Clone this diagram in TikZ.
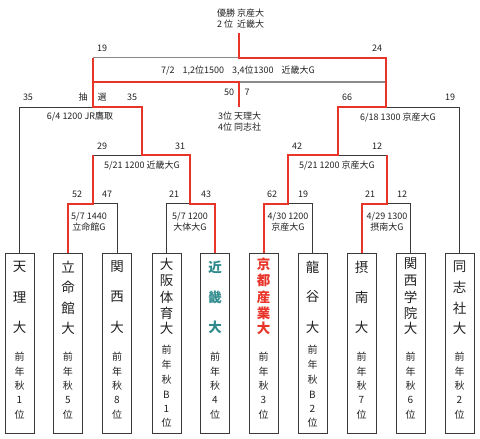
\documentclass[tikz,border=0pt]{standalone}
\usepackage{fontspec}
\setmainfont{Noto Sans CJK JP}
\definecolor{winred}{HTML}{E8352A}
\definecolor{lineblack}{HTML}{3A3A3A}
\definecolor{linegray}{HTML}{8A8A8A}
\definecolor{kinteal}{HTML}{2E8A8C}
\definecolor{txt}{HTML}{222222}
\tikzset{
  teambox/.style={draw=lineblack,line width=0.9pt,minimum width=29pt,minimum height=180pt,inner sep=0pt},
  blk/.style={draw=lineblack,line width=0.9pt},
  gry/.style={draw=linegray,line width=1.1pt},
  rd/.style={draw=winred,line width=2pt,line join=miter},
  small/.style={font=\fontsize{9}{11}\selectfont,text=txt,inner sep=0pt,align=center},
  namech/.style={font=\fontsize{13.5}{14}\selectfont,text=txt,inner sep=0pt},
  rankch/.style={font=\fontsize{10}{11}\selectfont,text=txt,inner sep=0pt},
}
\begin{document}
\begin{tikzpicture}[x=1pt,y=-1pt]
\useasboundingbox (0,0) rectangle (480,439);
% team boxes
\foreach \i/\x in {1/19.5,2/68,3/117,4/166.5,5/215,6/263.5,7/312.5,8/361.5,9/410.5,10/459.5}{
  \node[teambox] (b\i) at (\x,343) {};
}
% team names
\newcommand\vchars[4]{% x, style, ylist, charlist
  \foreach \yy [count=\k] in {#3}{
    \foreach \cc [count=\m] in {#4}{
      \ifnum\k=\m \node[#2] (c-#1-\k) at (#1,\yy) {\cc};\fi
    }
  }
}
\vchars{19.5}{namech}{267,297,327}{天,理,大}
\vchars{68}{namech}{267,287.5,308,328}{立,命,館,大}
\vchars{117}{namech}{267,297,327}{関,西,大}
\vchars{166.5}{namech}{264,280.5,297,313,328}{大,阪,体,育,大}
\vchars{215}{namech,text=kinteal,font=\fontsize{13.5}{14}\selectfont\bfseries}{267,297,327}{近,畿,大}
\vchars{263.5}{namech,text=winred,font=\fontsize{13.5}{14}\selectfont\bfseries}{264,280.5,297,313,328}{京,都,産,業,大}
\vchars{312.5}{namech}{267,297,327}{龍,谷,大}
\vchars{361.5}{namech}{267,297,327}{摂,南,大}
\vchars{410.5}{namech}{264,280.5,297,313,328}{関,西,学,院,大}
\vchars{459.5}{namech}{267,287.5,308,328}{同,志,社,大}
% ranks
\vchars{19.5}{rankch}{357,371.5,386,400,414.5}{前,年,秋,1,位}
\vchars{68}{rankch}{357,371.5,386,400,414.5}{前,年,秋,5,位}
\vchars{117}{rankch}{357,371.5,386,400,414.5}{前,年,秋,8,位}
\vchars{166.5}{rankch}{350,365,380,395,408.5,423}{前,年,秋,B,1,位}
\vchars{215}{rankch}{357,371.5,386,400,414.5}{前,年,秋,4,位}
\vchars{263.5}{rankch}{357,371.5,386,400,414.5}{前,年,秋,3,位}
\vchars{312.5}{rankch}{350,365,380,395,408.5,423}{前,年,秋,B,2,位}
\vchars{361.5}{rankch}{357,371.5,386,400,414.5}{前,年,秋,7,位}
\vchars{410.5}{rankch}{357,371.5,386,400,414.5}{前,年,秋,6,位}
\vchars{459.5}{rankch}{357,371.5,386,400,414.5}{前,年,秋,2,位}
% junctions
\coordinate (m1) at (93,203.5);
\coordinate (m2) at (190,203.5);
\coordinate (m3) at (288,203.5);
\coordinate (m4) at (387,203.5);
\coordinate (m5L) at (93,155);
\coordinate (m5) at (142,155);
\coordinate (m5R) at (190,155);
\coordinate (m6L) at (288,155);
\coordinate (m6) at (337.5,155);
\coordinate (m6R) at (387,155);
\coordinate (m7) at (93,107);
\coordinate (m8) at (386,107);
\coordinate (fL) at (93,57.5);
\coordinate (fc) at (239,57.5);
\coordinate (fR) at (386,57.5);
\coordinate (top) at (239,33);
\coordinate (tL) at (93,82);
\coordinate (tc) at (239,82);
\coordinate (tR) at (386,82);
\coordinate (tb) at (239,107);
% black lines
\draw[blk] (b3.north) |- (m1);
\draw[blk] (b4.north) |- (m2);
\draw[blk] (b7.north) |- (m3);
\draw[blk] (b9.north) |- (m4);
\draw[blk] (m5L) -- (m5);
\draw[blk] (m6) -- (m6R);
\draw[blk] (b1.north) |- (m7);
\draw[blk] (b10.north) |- (m8);
\draw[gry] (fL) -- (fc);
\draw[gry] (tc) -- (tR);
% red lines
\draw[rd] (b2.north) |- (m1) -- (m5L);
\draw[rd] (b5.north) |- (m2) -- (m5R) -- (m5) |- (m7) -- (fL);
\draw[rd] (b6.north) |- (m3) -- (m6L) -- (m6) |- (m8) -- (fR) -- (fc) -- (top);
\draw[rd] (b8.north) |- (m4) -- (m6R);
\draw[rd] (tL) -- (tc) -- (tb);
% top texts
\node[small,align=left,anchor=west] (champ) at (217,18.5) {優勝 京産大\\2 位\hspace{4pt}近畿大};
\node[small] (final) at (238,71) {7/2\hspace{8pt}1,2位1500\hspace{8pt}3,4位1300\hspace{8pt}近畿大G};
\node[small,align=left,anchor=west] (third) at (218,121.5) {3位 天理大\\4位 同志社};
% scores
\node[small] (s1) at (102,48) {19};
\node[small] (s2) at (377,48) {24};
\node[small] (s3) at (28,97) {35};
\node[small] (s4) at (83,97) {抽};
\node[small] (s5) at (102,97) {選};
\node[small] (s6) at (132,97) {35};
\node[small] (s7) at (229,92) {50};
\node[small] (s8) at (247,92) {7};
\node[small] (s9) at (347,97) {66};
\node[small] (s10) at (450,97) {19};
\node[small] (s11) at (102,146) {29};
\node[small] (s12) at (180,146) {31};
\node[small] (s13) at (297,146) {42};
\node[small] (s14) at (377,146) {12};
\node[small] (s15) at (77,194) {52};
\node[small] (s16) at (107,194) {47};
\node[small] (s17) at (174,194) {21};
\node[small] (s18) at (206,194) {43};
\node[small] (s19) at (272,194) {62};
\node[small] (s20) at (303,194) {19};
\node[small] (s21) at (370,194) {21};
\node[small] (s22) at (402,194) {12};
% match info
\node[small] (g1) at (80,117) {6/4 1200 JR鷹取};
\node[small] (g2) at (398,118) {6/18 1300 京産大G};
\node[small] (g3) at (142,166) {5/21 1200 近畿大G};
\node[small] (g4) at (337,166) {5/21 1200 京産大G};
\node[small] (g5) at (89,221.5) {5/7 1440\\立命館G};
\node[small] (g6) at (190,221.5) {5/7 1200\\大体大G};
\node[small] (g7) at (288,221.5) {4/30 1200\\京産大G};
\node[small] (g8) at (387,221.5) {4/29 1300\\摂南大G};
\end{tikzpicture}
\end{document}
